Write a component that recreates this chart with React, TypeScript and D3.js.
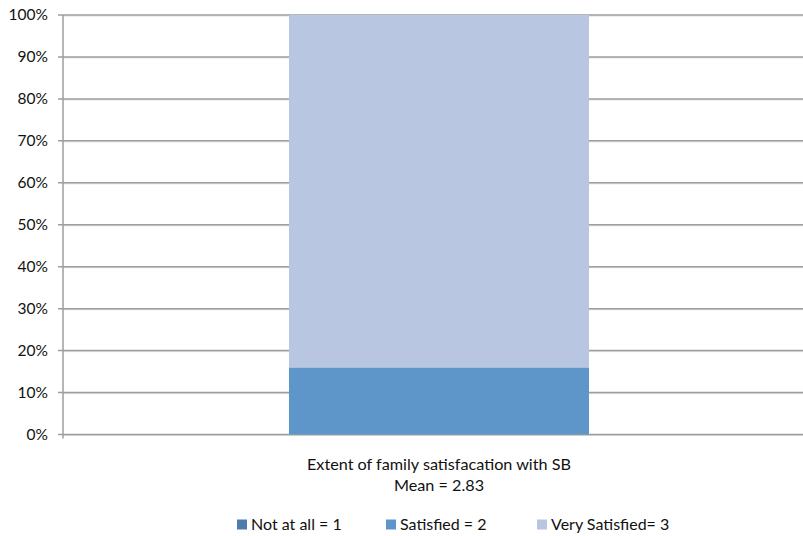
import React from "react";
import * as d3 from "d3";

const categories = ["Extent of family satisfacation with SB"];
const seriesNames = ["Not at all = 1", "Satisfied = 2", "Very Satisfied= 3"];
const notAtAll = [0];
const satisfied = [16];
const verySatisfied = [84];
const yTicks = [0, 10, 20, 30, 40, 50, 60, 70, 80, 90, 100];
const colors = ["#4f7cae", "#5f96c9", "#b8c6e1"];

export default function App() {
  const W = 803, H = 536;
  const left = 63, right = 815, top = 15, bottom = 434.5;
  const y = d3.scaleLinear().domain([0, 100]).range([bottom, top]);
  const x = d3.scaleBand().domain(categories).range([left, right]).paddingInner(0).paddingOuter(0);
  const barW = 300;
  const rows = categories.map((c, i) => ({ c, vals: [notAtAll[i], satisfied[i], verySatisfied[i]] }));
  const stack = d3.stack<any>().keys(["0", "1", "2"]).value((d, k) => d.vals[+k]);
  const stacked = stack(rows);
  const font = "Lato, 'Open Sans', sans-serif";
  const legendX = [237, 386, 537];
  return (
    <svg width={W} height={H} style={{ position: "absolute", left: 0, top: 0 }} fontFamily={font}>
      {yTicks.map((t) => (
        <g key={t}>
          <line x1={left} x2={W} y1={y(t) + 1} y2={y(t) + 1} stroke="#dcdcdc" strokeWidth={1} />
          <line x1={left - 5} x2={W} y1={y(t)} y2={y(t)} stroke="#9e9e9e" strokeWidth={1.5} />
          <text x={48} y={y(t)} dy="0.35em" textAnchor="end" fontSize={15.5} fill="#111">{t}%</text>
        </g>
      ))}
      <line x1={left} x2={left} y1={top} y2={bottom + 4} stroke="#9e9e9e" strokeWidth={1.5} />
      {stacked.map((s, si) =>
        s.map((d, i) => {
          const cx = (x(rows[i].c) as number) + x.bandwidth() / 2;
          const h = y(d[0]) - y(d[1]);
          if (h <= 0) return null;
          return <rect key={si + "-" + i} x={cx - barW / 2} y={y(d[1])} width={barW} height={h} fill={colors[si]} />;
        })
      )}
      <text x={439} y={470} textAnchor="middle" fontSize={16.2} fill="#111">{categories[0]}</text>
      <text x={439} y={491} textAnchor="middle" fontSize={16.2} fill="#111">Mean = 2.83</text>
      {seriesNames.map((n, i) => (
        <g key={n}>
          <rect x={legendX[i]} y={519.5} width={10} height={10} fill={colors[i]} />
          <text x={legendX[i] + 14} y={524} dy="0.35em" fontSize={16} fill="#111">{n}</text>
        </g>
      ))}
    </svg>
  );
}
